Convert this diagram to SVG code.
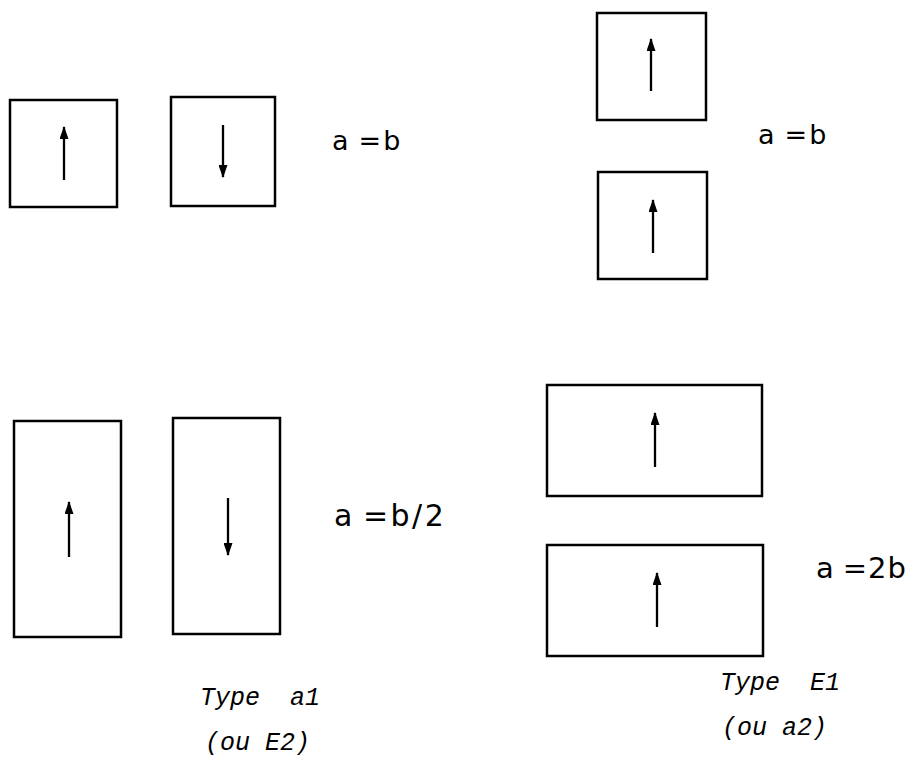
<svg xmlns="http://www.w3.org/2000/svg" width="918" height="758" viewBox="0 0 918 758">
<style>
.box{fill:none;stroke:#000;stroke-width:2.5}
.arr{stroke:#000;stroke-width:2.3;fill:none;marker-end:url(#ah)}
.eq{font-family:"DejaVu Sans","Liberation Sans",sans-serif;fill:#000}
.ty{font-family:"Liberation Mono","DejaVu Sans Mono",monospace;font-style:italic;font-size:25px;fill:#000;white-space:pre}
</style>
<defs>
<marker id="ah" markerWidth="13" markerHeight="9" refX="12" refY="4.5" orient="auto" markerUnits="userSpaceOnUse" viewBox="0 0 13 9">
<path d="M0,0 L13,4.5 L0,9 Z" fill="#000"/>
</marker>
</defs>
<rect width="918" height="758" fill="#fff"/>
<g id="box1"><rect class="box" x="10" y="100" width="107" height="107"/></g>
<g id="box2"><rect class="box" x="171" y="97" width="104" height="109"/></g>
<g id="box3"><rect class="box" x="597" y="13" width="109" height="107"/></g>
<g id="box4"><rect class="box" x="598" y="172" width="109" height="107"/></g>
<g id="box5"><rect class="box" x="14" y="421" width="107" height="216"/></g>
<g id="box6"><rect class="box" x="173" y="418" width="107" height="216"/></g>
<g id="box7"><rect class="box" x="547" y="385" width="215" height="111"/></g>
<g id="box8"><rect class="box" x="547" y="545" width="216" height="111"/></g>
<g id="connectors">
<line class="arr" x1="64" y1="180" x2="64" y2="127"/>
<line class="arr" x1="223" y1="125" x2="223" y2="177"/>
<line class="arr" x1="651" y1="91" x2="651" y2="39"/>
<line class="arr" x1="653" y1="253" x2="653" y2="200"/>
<line class="arr" x1="69" y1="557" x2="69" y2="502"/>
<line class="arr" x1="228" y1="498" x2="228" y2="555"/>
<line class="arr" x1="655" y1="467" x2="655" y2="413"/>
<line class="arr" x1="657" y1="627" x2="657" y2="573"/>
</g>
<g id="labels">
<text class="eq" x="332" y="150" font-size="27" letter-spacing="2">a<tspan dx="8">=b</tspan></text>
<text class="eq" x="758" y="144" font-size="27" letter-spacing="2">a<tspan dx="8">=b</tspan></text>
<text class="eq" x="334" y="526" font-size="30" letter-spacing="2.5">a<tspan dx="8">=b/2</tspan></text>
<text class="eq" x="816" y="578" font-size="29" letter-spacing="1">a<tspan dx="8">=2b</tspan></text>
<text class="ty" x="200" y="705">Type  a1</text>
<text class="ty" x="205" y="750">(ou E2)</text>
<text class="ty" x="720" y="690">Type  E1</text>
<text class="ty" x="722" y="735">(ou a2)</text>
</g>
</svg>
